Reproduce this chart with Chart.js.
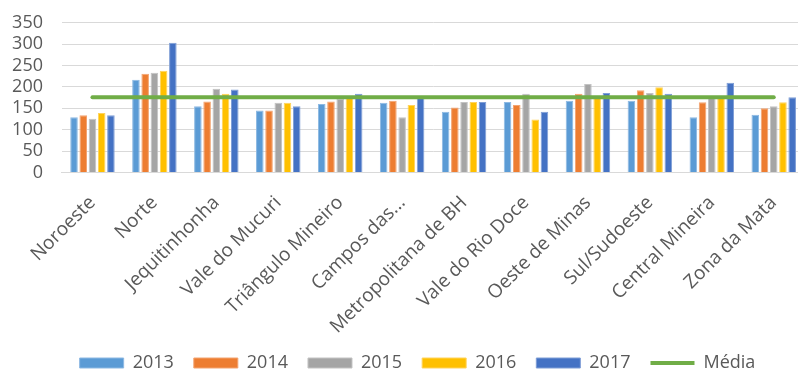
<!DOCTYPE html>
<html lang="pt">
<head>
    <meta charset="UTF-8">
    <title>Regiões - 2013 a 2017</title>
    <script src="https://cdn.jsdelivr.net/npm/chart.js"></script>
    <style>
        body {
            margin: 0;
            padding: 0;
            background-color: #ffffff;
            overflow: hidden;
        }

        /* o grafico original foi recortado a direita e embaixo */
        .chart-wrapper {
            position: absolute;
            left: 0;
            top: 0;
            width: 835px;
            height: 382px;
        }
    </style>
</head>
<body>
    <div class="chart-wrapper">
        <canvas id="main-chart"></canvas>
    </div>

    <script>
        // Dados
        const regioes = ['Noroeste', 'Norte', 'Jequitinhonha', 'Vale do Mucuri', 'Triângulo Mineiro',
            'Campos das...', 'Metropolitana de BH', 'Vale do Rio Doce', 'Oeste de Minas',
            'Sul/Sudoeste', 'Central Mineira', 'Zona da Mata'];

        const anos = ['2013', '2014', '2015', '2016', '2017'];

        const valores2013 = [129, 217, 155, 145, 160, 163, 142, 165, 168, 168, 129, 135];
        const valores2014 = [134, 231, 166, 145, 166, 168, 152, 158, 184, 192, 164, 150];
        const valores2015 = [126, 233, 196, 163, 172, 129, 165, 184, 207, 186, 174, 155];
        const valores2016 = [139, 238, 184, 163, 175, 158, 165, 124, 177, 199, 175, 164];
        const valores2017 = [134, 303, 194, 155, 184, 174, 165, 142, 186, 184, 210, 176];

        const media = [176, 176, 176, 176, 176, 176, 176, 176, 176, 176, 176, 176];

        const ticksY = [0, 50, 100, 150, 200, 250, 300, 350];

        const cores = ['#5B9BD5', '#ED7D31', '#A5A5A5', '#FFC000', '#4472C4'];
        const bordas = ['#8DB9E3', '#F3A471', '#C3C3C3', '#FFD35C', '#7F9ED6'];
        const corMedia = '#70AD47';
        const corTexto = '#595959';
        const corGrade = '#D9D9D9';

        const series = [valores2013, valores2014, valores2015, valores2016, valores2017];

        const datasets = series.map(function(valores, i) {
            return {
                type: 'bar',
                label: anos[i],
                data: valores,
                backgroundColor: cores[i],
                borderColor: bordas[i],
                borderWidth: 1,
                pointStyle: 'rect',
                categoryPercentage: 0.745,
                barPercentage: 0.82,
                order: 1
            };
        });

        datasets.push({
            type: 'line',
            label: 'Média',
            data: media,
            borderColor: corMedia,
            backgroundColor: corMedia,
            borderWidth: 4,
            borderCapStyle: 'round',
            pointRadius: 0,
            pointHoverRadius: 0,
            pointBorderWidth: 4,
            pointStyle: 'line',
            order: 0
        });

        const fonte = { family: "'Open Sans', sans-serif", size: 18 };
        const fonteX = { family: "'Open Sans', sans-serif", size: 19 };

        const ctx = document.getElementById('main-chart').getContext('2d');

        new Chart(ctx, {
            data: {
                labels: regioes,
                datasets: datasets
            },
            options: {
                responsive: true,
                maintainAspectRatio: false,
                animation: false,
                layout: {
                    padding: { top: 22.7, left: 0, right: 0, bottom: 0 }
                },
                plugins: {
                    tooltip: { enabled: false },
                    legend: {
                        position: 'bottom',
                        labels: {
                            usePointStyle: true,
                            pointStyleWidth: 44,
                            boxHeight: 10,
                            padding: 20,
                            color: corTexto,
                            font: fonte,
                            // manter a ordem original (Média no fim)
                            sort: function(a, b) { return a.datasetIndex - b.datasetIndex; }
                        }
                    }
                },
                scales: {
                    x: {
                        grid: { display: false },
                        border: { display: true, color: corGrade, width: 1 },
                        ticks: {
                            color: corTexto,
                            font: fonteX,
                            autoSkip: false,
                            minRotation: 45,
                            maxRotation: 45,
                            padding: 11
                        },
                        afterFit: function(axis) {
                            axis.height = 161.4;
                        }
                    },
                    y: {
                        min: 0,
                        max: 350,
                        grid: { color: corGrade, lineWidth: 1, drawTicks: false },
                        border: { display: false },
                        ticks: {
                            color: corTexto,
                            font: fonte,
                            padding: 18.5,
                            autoSkip: false
                        },
                        afterBuildTicks: function(axis) {
                            axis.ticks = ticksY.map(function(v) { return { value: v }; });
                        },
                        afterFit: function(axis) {
                            axis.width = 61.5;
                            // o topo da area fica so pelo padding do layout
                            axis.paddingTop = 0;
                            axis.paddingBottom = 0;
                        }
                    },
                    // eixo vazio so para reservar espaco a direita (legenda fica centrada)
                    espaco: {
                        type: 'linear',
                        position: 'right',
                        grid: { display: false },
                        border: { display: false },
                        ticks: { display: false },
                        afterFit: function(axis) {
                            axis.width = 30.3;
                        }
                    }
                }
            }
        });
    </script>
</body>
</html>
